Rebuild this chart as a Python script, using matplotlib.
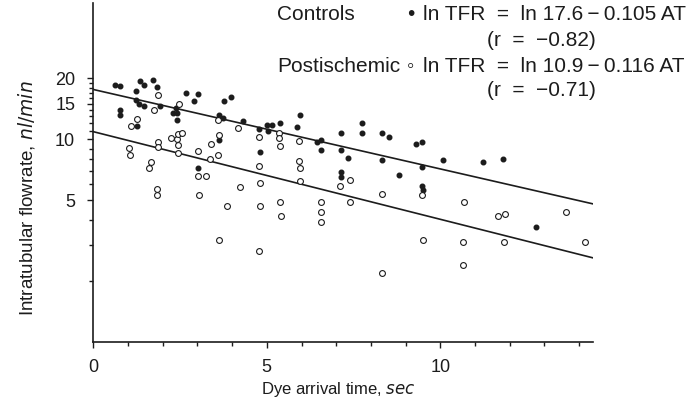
import numpy as np
import matplotlib
matplotlib.use("Agg")
import matplotlib.pyplot as plt
from matplotlib.ticker import FixedLocator, NullFormatter

plt.rcParams['font.family'] = ['Liberation Sans', 'DejaVu Sans']

# Controls (filled dots): dye arrival time (sec) vs tubular flowrate (nl/min)
controls_at = [0.63, 0.77, 0.77, 0.77, 1.23, 1.23, 1.25, 1.33, 1.35, 1.47,
               1.47, 1.71, 1.83, 1.93, 2.29, 2.38, 2.42, 2.40, 2.66, 2.91,
               3.01, 3.03, 3.63, 3.73, 3.63, 3.77, 3.97, 4.31, 4.78, 4.79,
               5.01, 5.04, 5.15, 5.39, 5.86, 5.96, 6.44, 6.56, 6.56, 7.14,
               7.14, 7.14, 7.14, 7.35, 7.73, 7.75, 8.31, 8.33, 8.53, 8.81,
               9.30, 9.46, 9.48, 9.48, 9.51, 10.07, 11.24, 11.82, 12.76]
controls_tfr = [18.5, 18.3, 14.0, 13.2, 17.3, 15.6, 11.6, 15.0, 19.3, 18.5,
                14.6, 19.5, 18.2, 14.6, 13.5, 14.3, 13.5, 12.4, 17.0, 15.4,
                16.8, 7.2, 13.2, 12.7, 9.9, 15.5, 16.2, 12.3, 11.2, 8.7,
                11.7, 11.0, 11.8, 12.0, 11.5, 13.2, 9.7, 9.9, 8.9, 10.7,
                8.9, 6.9, 6.5, 8.1, 12.0, 10.7, 10.7, 7.9, 10.3, 6.7,
                9.5, 5.9, 9.7, 7.3, 5.6, 7.9, 7.7, 8.0, 3.7]

# Postischemic (open circles)
post_at = [1.04, 1.06, 1.10, 1.25, 1.60, 1.65, 1.75, 1.84, 1.84, 1.87,
           1.87, 1.87, 2.24, 2.42, 2.43, 2.43, 2.45, 2.46, 2.55, 3.01,
           3.02, 3.05, 3.25, 3.36, 3.38, 3.60, 3.60, 3.62, 3.63, 3.86,
           4.18, 4.23, 4.78, 4.78, 4.78, 4.80, 4.80, 5.35, 5.35, 5.37,
           5.38, 5.40, 5.94, 5.94, 5.96, 5.96, 6.56, 6.56, 6.56, 7.10,
           7.40, 7.40, 8.33, 8.33, 9.48, 9.49, 10.66, 10.66, 10.68, 11.67,
           11.83, 11.86, 13.62, 14.17]
post_tfr = [9.1, 8.4, 11.6, 12.6, 7.2, 7.7, 14.0, 5.7, 5.3, 16.5,
            9.7, 9.2, 10.2, 10.0, 10.6, 8.6, 9.4, 15.0, 10.7, 6.6,
            8.8, 5.3, 6.6, 8.0, 9.5, 12.4, 8.4, 3.2, 10.5, 4.7,
            11.4, 5.8, 10.3, 7.4, 2.8, 6.1, 4.7, 10.7, 10.1, 9.3,
            4.9, 4.2, 9.8, 7.8, 7.2, 6.2, 4.9, 4.4, 3.9, 5.9,
            6.3, 4.9, 5.4, 2.2, 5.3, 3.2, 3.1, 2.4, 4.9, 4.2,
            3.1, 4.3, 4.4, 3.1]

# regression lines as drawn in the figure (end points)
fit_at = [0, 14.4]
controls_fit = [17.6, 4.8]
post_fit = [10.9, 2.6]

x_major = [0, 5, 10]
x_minor = list(range(0, 15))
y_major = [5, 10, 15, 20]
y_minor = [2, 3, 4, 6, 7, 8, 9, 11, 12, 13, 14, 16, 17, 18, 19]

W, H = 694, 418
ink = '#1c1c1c'

fig = plt.figure(figsize=(W / 100, H / 100), dpi=100)
ax = fig.add_axes([93.3 / W, 1 - 342 / H, 499.7 / W, 339 / H])

ax.plot(controls_at, controls_tfr, 'o', ms=3.3, color=ink, mec=ink, zorder=3)
ax.plot(post_at, post_tfr, 'o', ms=4.2, mfc='white', mec=ink, mew=0.8, zorder=3)

# exponential fit lines: straight on a log axis
ax.plot(fit_at, controls_fit, color=ink, lw=1.2)
ax.plot(fit_at, post_fit, color=ink, lw=1.2)

ax.set_yscale('log')
ax.set_xlim(0, 14.4)
ax.set_ylim(1.0, 47)

ax.xaxis.set_major_locator(FixedLocator(x_major))
ax.xaxis.set_minor_locator(FixedLocator(x_minor))
ax.yaxis.set_major_locator(FixedLocator(y_major))
ax.yaxis.set_minor_locator(FixedLocator(y_minor))
ax.yaxis.set_major_formatter(plt.FuncFormatter(lambda v, p: f"{v:g}"))
ax.yaxis.set_minor_formatter(NullFormatter())

ax.tick_params(axis='both', which='major', length=4, width=1, color=ink,
               labelsize=13, labelcolor=ink)
ax.tick_params(axis='both', which='minor', length=3, width=1, color=ink)
ax.tick_params(axis='x', which='major', pad=8)
ax.tick_params(axis='y', which='major', pad=9)

for side in ['top', 'right']:
    ax.spines[side].set_visible(False)
for side in ['left', 'bottom']:
    ax.spines[side].set_linewidth(1.2)
    ax.spines[side].set_color(ink)

ax.set_xlabel('Dye arrival time, $\\it{sec}$', fontsize=12, color=ink)
ax.set_ylabel('Intratubular flowrate, $\\it{nl/min}$', fontsize=13.5, color=ink)
ax.xaxis.set_label_coords(0.49, -0.112)
ax.yaxis.set_label_coords(-0.112, 0.425)

# legend block written as text, as in the original
def ftext(px, py, s, **kw):
    fig.text(px / W, 1 - py / H, s, fontsize=15, color=ink, va='center', **kw)

ftext(277, 15, 'Controls')
ftext(411, 15, '\u2022', ha='center')
ftext(423, 15, 'ln TFR  =  ln 17.6\u2009\u2212\u20090.105 AT')
ftext(487, 41, '(r  =  \u22120.82)')
ftext(277, 66, 'Postischemic')
ftext(411, 67, '\u25e6', ha='center')
ftext(423, 66, 'ln TFR  =  ln 10.9\u2009\u2212\u20090.116 AT')
ftext(487, 90, '(r  =  \u22120.71)')

fig.savefig('out.png', dpi=100)
